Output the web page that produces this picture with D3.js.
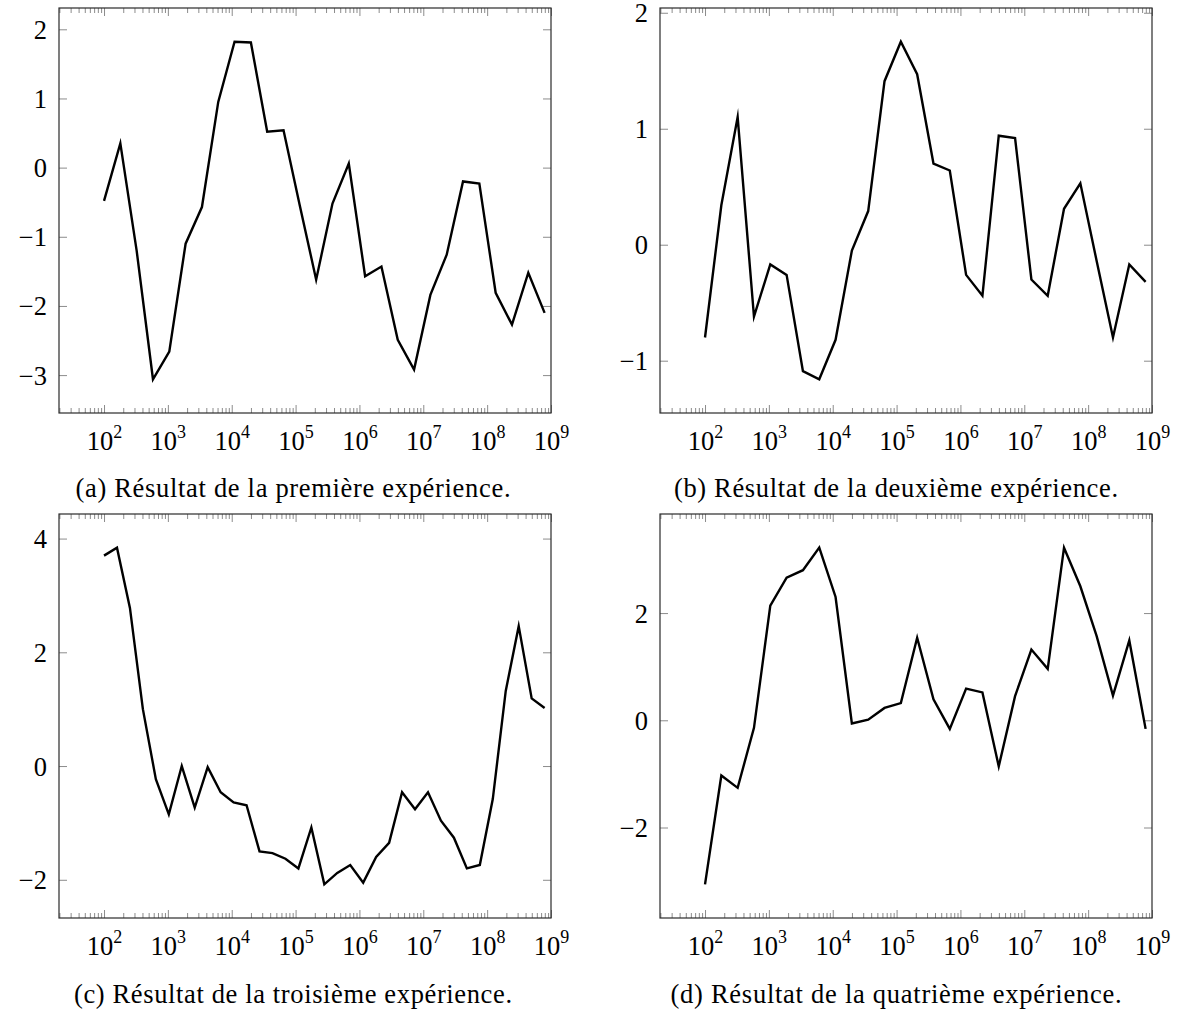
<!DOCTYPE html>
<html><head><meta charset="utf-8">
<script src="https://cdn.jsdelivr.net/npm/d3@7"></script>
<style>
body{margin:0;background:#fff}
svg{display:block}
text{font-family:"Liberation Serif","DejaVu Serif","Times New Roman",serif;fill:#000}
</style>
</head><body>
<svg id="chart" width="1183" height="1016" font-family="Liberation Serif, DejaVu Serif, serif"></svg>
<script>
// ---- data ----
const xs28 = [100, 180.1, 324.4, 584.4, 1052.5, 1896, 3415, 6151, 11080, 19953, 35938, 64734, 116591, 210006, 378270, 681292, 1227170, 2210360, 3981072, 7170900, 12915500, 23263500, 41902000, 75474000, 135936000, 244844000, 441004000, 794328000];
const xs35 = [100, 159.6, 254.6, 406.2, 648.2, 1034.4, 1650.6, 2633.9, 4202.8, 6706.3, 10701, 17076, 27247, 43477, 69376, 110700, 176650, 281838, 449700, 717600, 1145100, 1827200, 2915600, 4652300, 7423600, 11845600, 18901900, 30161000, 48128000, 76796000, 122540000, 195540000, 312000000, 497900000, 794328000];

const serieA = [-0.48, 0.35, -1.20, -3.06, -2.66, -1.10, -0.57, 0.95, 1.82, 1.81, 0.52, 0.54, -0.55, -1.62, -0.52, 0.06, -1.57, -1.43, -2.49, -2.92, -1.84, -1.26, -0.20, -0.23, -1.81, -2.27, -1.52, -2.10];
const serieB = [-0.80, 0.34, 1.10, -0.62, -0.17, -0.26, -1.09, -1.16, -0.82, -0.05, 0.29, 1.41, 1.75, 1.47, 0.70, 0.64, -0.26, -0.44, 0.94, 0.92, -0.30, -0.44, 0.31, 0.53, -0.14, -0.80, -0.17, -0.32];
const serieC = [3.70, 3.84, 2.78, 1.00, -0.23, -0.85, 0.00, -0.73, -0.02, -0.46, -0.64, -0.69, -1.50, -1.53, -1.63, -1.80, -1.08, -2.08, -1.88, -1.74, -2.05, -1.60, -1.35, -0.46, -0.76, -0.46, -0.96, -1.26, -1.80, -1.74, -0.58, 1.32, 2.46, 1.19, 1.02];
const serieD = [-3.06, -1.03, -1.26, -0.14, 2.14, 2.66, 2.80, 3.22, 2.30, -0.06, 0.01, 0.23, 0.32, 1.54, 0.39, -0.16, 0.59, 0.52, -0.86, 0.45, 1.32, 0.96, 3.22, 2.50, 1.57, 0.46, 1.49, -0.16];

const xTickExponents = [2, 3, 4, 5, 6, 7, 8, 9];
const yTicksA = [-3, -2, -1, 0, 1, 2];
const yTicksB = [-1, 0, 1, 2];
const yTicksC = [-2, 0, 2, 4];
const yTicksD = [-2, 0, 2];

const captions = [
  "(a) Résultat de la première expérience.",
  "(b) Résultat de la deuxième expérience.",
  "(c) Résultat de la troisième expérience.",
  "(d) Résultat de la quatrième expérience."
];

// ---- layout ----
const layout = [
  {x0: 59,  x1: 551,  y0: 8,   y1: 413, capX: 293, capY: 497, capW: 435},
  {x0: 660, x1: 1152, y0: 8,   y1: 413, capX: 896, capY: 497, capW: 444},
  {x0: 59,  x1: 551,  y0: 514, y1: 918, capX: 293, capY: 1003, capW: 438},
  {x0: 660, x1: 1152, y0: 514, y1: 918, capX: 896, capY: 1003, capW: 451}
];
const panels = [
  {xs: xs28, ys: serieA, yt: yTicksA},
  {xs: xs28, ys: serieB, yt: yTicksB},
  {xs: xs35, ys: serieC, yt: yTicksC},
  {xs: xs28, ys: serieD, yt: yTicksD}
];

const FONT = 26.5, SUP = 18;
const MAJ = 8, MIN = 5;
const tickColor = "#8c8c8c";
const FAMILY = "Liberation Serif, DejaVu Serif, serif";
const svg = d3.select("#chart");

const majors = xTickExponents.map(e => Math.pow(10, e));
const xMin = Math.pow(10, 1.295), xMax = 1e9;
const minors = [];
for (let e = 1; e <= 8; e++) for (let k = 2; k <= 9; k++) {
  const v = k * Math.pow(10, e);
  if (v > xMin && v < xMax) minors.push(v);
}
const fmtMinus = d => (d < 0 ? "\u2212" + Math.abs(d) : String(d));

function styleTicks(g) {
  g.select(".domain").remove();
  g.selectAll(".tick line").attr("stroke", tickColor).attr("stroke-width", 1);
  g.attr("font-family", FAMILY).attr("font-size", null);
}

panels.forEach((p, i) => {
  const L = layout[i];
  const g = svg.append("g");
  const x = d3.scaleLog().domain([xMin, xMax]).range([L.x0, L.x1]);
  const lo = d3.min(p.ys), hi = d3.max(p.ys), r = hi - lo;
  const y = d3.scaleLinear().domain([lo - 0.1 * r, hi + 0.1 * r]).range([L.y1, L.y0]);

  // minor x ticks (bottom/top, inside)
  g.append("g").attr("transform", `translate(0,${L.y1})`)
    .call(d3.axisBottom(x).tickValues(minors).tickSize(-MIN).tickFormat(""))
    .call(styleTicks);
  g.append("g").attr("transform", `translate(0,${L.y0})`)
    .call(d3.axisTop(x).tickValues(minors).tickSize(-MIN).tickFormat(""))
    .call(styleTicks);
  // major x ticks
  const bx = g.append("g").attr("transform", `translate(0,${L.y1})`)
    .call(d3.axisBottom(x).tickValues(majors).tickSize(-MAJ).tickPadding(18.5).tickFormat(d => "10"))
    .call(styleTicks);
  bx.selectAll(".tick text")
    .attr("font-size", FONT)
    .attr("font-family", FAMILY)
    .each(function(d) {
      const t = d3.select(this);
      const e = Math.round(Math.log10(d));
      t.append("tspan").attr("font-size", SUP).attr("dy", -12).text(String(e));
    });
  g.append("g").attr("transform", `translate(0,${L.y0})`)
    .call(d3.axisTop(x).tickValues(majors).tickSize(-MAJ).tickFormat(""))
    .call(styleTicks);

  // y ticks
  const ly = g.append("g").attr("transform", `translate(${L.x0},0)`)
    .call(d3.axisLeft(y).tickValues(p.yt).tickSize(-MAJ).tickPadding(12).tickFormat(fmtMinus))
    .call(styleTicks);
  ly.selectAll(".tick text").attr("font-size", FONT).attr("font-family", FAMILY).attr("dy", "0.34em");
  g.append("g").attr("transform", `translate(${L.x1},0)`)
    .call(d3.axisRight(y).tickValues(p.yt).tickSize(-MAJ).tickFormat(""))
    .call(styleTicks);

  // data line
  const line = d3.line().x((d, j) => x(p.xs[j])).y(d => y(d));
  g.append("path").datum(p.ys)
    .attr("d", line)
    .attr("fill", "none")
    .attr("stroke", "#000")
    .attr("stroke-width", 2.4)
    .attr("stroke-linejoin", "miter")
    .attr("stroke-miterlimit", 10);

  // frame
  g.append("rect")
    .attr("x", L.x0).attr("y", L.y0)
    .attr("width", L.x1 - L.x0).attr("height", L.y1 - L.y0)
    .attr("fill", "none").attr("stroke", "#2a2a2a").attr("stroke-width", 1.2);

  // caption
  svg.append("text")
    .attr("x", L.capX).attr("y", L.capY)
    .attr("text-anchor", "middle")
    .attr("font-size", FONT)
    .attr("font-family", FAMILY)
    .attr("textLength", L.capW)
    .attr("lengthAdjust", "spacing")
    .text(captions[i]);
});
</script>
</body></html>
